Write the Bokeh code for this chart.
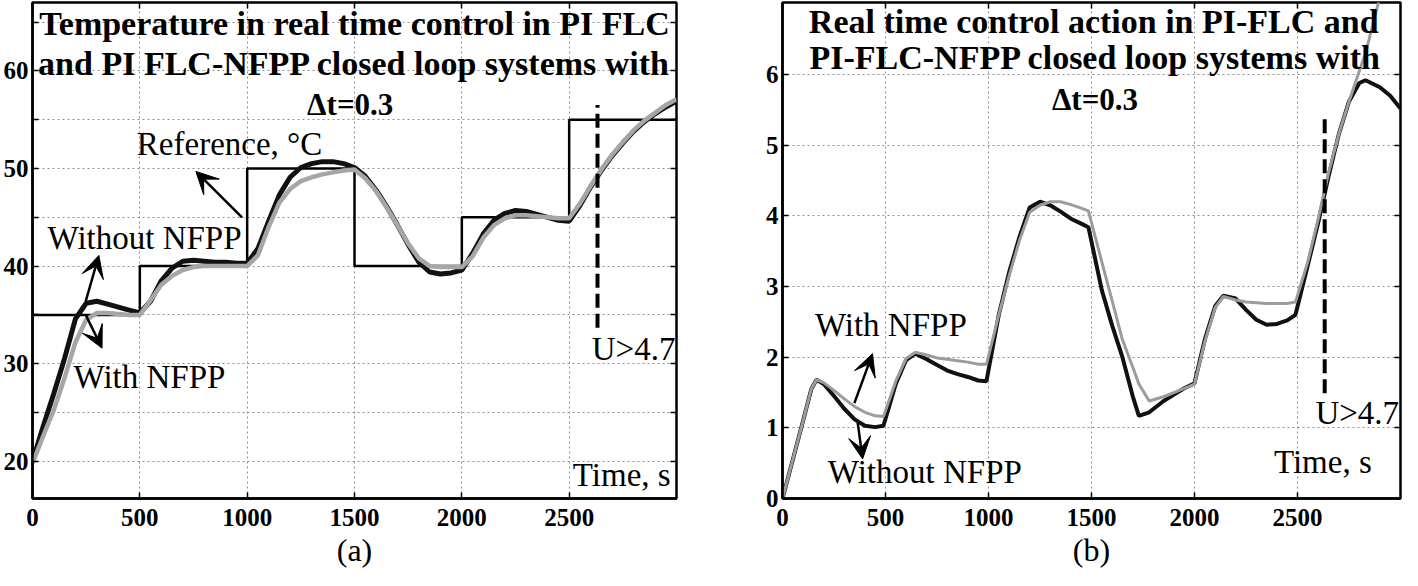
from bokeh.plotting import figure
from bokeh.layouts import row
from bokeh.models import Range1d, FixedTicker, LinearAxis, Arrow, VeeHead, Label
from bokeh.embed import file_html
from bokeh.resources import INLINE

FONT = "Liberation Serif"

# ---------------- data: panel (a) temperature ----------------
ref_start = [0, 500, 1000, 1500, 2000, 2500, 3000]
ref_level = [35, 40, 50, 40, 45, 55, 55]

temp_t = [0, 50, 100, 150, 200, 250, 300, 350, 400, 450, 500, 550, 600, 650, 700, 750, 800, 850, 900, 950,
          1000, 1050, 1100, 1150, 1200, 1250, 1300, 1350, 1400, 1450, 1500, 1550, 1600, 1650, 1700, 1750,
          1800, 1850, 1900, 1950, 2000, 2050, 2100, 2150, 2200, 2250, 2300, 2350, 2400, 2450, 2500, 2550,
          2600, 2650, 2700, 2750, 2800, 2850, 2900, 2950, 3000]
temp_without = [20.0, 23.6, 27.0, 30.6, 34.6, 36.2, 36.4, 36.1, 35.8, 35.5, 35.2, 36.4, 38.5, 39.8, 40.5,
                40.6, 40.5, 40.4, 40.4, 40.3, 40.3, 41.8, 44.6, 47.3, 49.1, 50.1, 50.5, 50.7, 50.7, 50.5,
                50.1, 49.2, 47.8, 46.1, 44.2, 42.2, 40.4, 39.4, 39.2, 39.3, 39.6, 41.3, 43.3, 44.7, 45.4,
                45.7, 45.6, 45.3, 45.0, 44.7, 44.6, 46.2, 48.1, 49.8, 51.3, 52.6, 53.8, 54.8, 55.6, 56.3, 56.9]
temp_with = [19.8, 22.6, 25.3, 28.6, 32.2, 34.5, 35.2, 35.2, 35.1, 35.0, 35.0, 36.5, 38.1, 39.0, 39.6,
             39.9, 40.0, 40.0, 40.0, 40.0, 40.0, 41.1, 44.0, 46.5, 47.9, 48.7, 49.1, 49.4, 49.6, 49.8,
             49.9, 49.0, 47.7, 46.0, 44.2, 42.3, 40.8, 40.0, 39.9, 39.9, 39.9, 41.0, 42.9, 44.2, 44.9,
             45.2, 45.2, 45.1, 45.0, 44.9, 44.9, 46.4, 48.2, 49.9, 51.4, 52.7, 53.9, 54.9, 55.7, 56.5, 57.1]

# ---------------- data: panel (b) control action ----------------
ctrl_t = [0, 50, 100, 140, 165, 200, 250, 300, 350, 400, 450, 490, 550, 600, 645, 700, 750, 800, 850, 900,
          950, 990, 1050, 1100, 1150, 1200, 1250, 1300, 1350, 1400, 1450, 1485, 1550, 1600, 1650, 1700,
          1730, 1780, 1850, 1900, 1950, 2000, 2050, 2100, 2140, 2200, 2250, 2300, 2350, 2400, 2450, 2490,
          2550, 2600, 2650, 2700, 2750, 2800, 2830, 2900, 2950, 3000]
ctrl_without = [0.0, 0.55, 1.1, 1.55, 1.68, 1.62, 1.45, 1.27, 1.12, 1.03, 1.01, 1.03, 1.62, 1.96, 2.05,
                1.97, 1.89, 1.81, 1.76, 1.72, 1.67, 1.66, 2.6, 3.2, 3.7, 4.12, 4.2, 4.15, 4.06, 3.96,
                3.89, 3.84, 2.95, 2.45, 2.0, 1.45, 1.17, 1.22, 1.38, 1.47, 1.56, 1.63, 2.25, 2.72, 2.87,
                2.83, 2.67, 2.53, 2.46, 2.47, 2.52, 2.6, 3.3, 3.9, 4.55, 5.15, 5.62, 5.88, 5.92, 5.82,
                5.7, 5.52]
ctrl_with = [0.0, 0.55, 1.1, 1.55, 1.68, 1.64, 1.53, 1.41, 1.3, 1.22, 1.17, 1.16, 1.66, 1.98, 2.07,
             2.03, 1.99, 1.97, 1.95, 1.93, 1.9, 1.9, 2.6, 3.15, 3.65, 4.05, 4.15, 4.2, 4.2, 4.16,
             4.11, 4.07, 3.35, 2.8, 2.25, 1.86, 1.62, 1.38, 1.44, 1.5, 1.56, 1.62, 2.22, 2.7, 2.86,
             2.81, 2.78, 2.77, 2.76, 2.76, 2.76, 2.78, 3.35, 3.95, 4.6, 5.15, 5.62, 6.05, 6.3, 7.1,
             7.7, 8.2]

x_ticks = [0, 500, 1000, 1500, 2000, 2500]
x_edge_ticks = [500, 1000, 1500, 2000, 2500]
temp_major = [20, 30, 40, 50, 60]
temp_minor = [25, 35, 45, 55, 65]
ctrl_major = [0, 1, 2, 3, 4, 5, 6]

limit_time = 2632
limit_label = "U>4.7"


def style(p, ymajor, yminor, caption):
    p.outline_line_color = "black"
    p.outline_line_width = 2.5
    p.background_fill_color = "white"
    p.border_fill_color = "white"
    xb = p.below[0]
    yl = p.left[0]
    xb.ticker = FixedTicker(ticks=x_ticks)
    yl.ticker = FixedTicker(ticks=ymajor, minor_ticks=yminor)
    for ax in (xb, yl):
        ax.major_tick_in = 6
        ax.major_tick_out = 0
        ax.minor_tick_in = 6
        ax.minor_tick_out = 0
        ax.major_tick_line_width = 1.5
        ax.minor_tick_line_width = 1.5
        ax.axis_line_width = 2.5
        ax.major_label_text_font = FONT
        ax.major_label_text_font_size = "25px"
        ax.major_label_text_font_style = "bold"
        ax.major_label_text_color = "black"
    p.xgrid.ticker = FixedTicker(ticks=x_ticks)
    p.ygrid.ticker = FixedTicker(ticks=ymajor, minor_ticks=yminor)
    for g in (p.xgrid[0], p.ygrid[0]):
        g.grid_line_color = "#8f8f8f"
        g.grid_line_dash = "2 3"
        g.grid_line_width = 1
    p.ygrid.minor_grid_line_color = "#8f8f8f"
    p.ygrid.minor_grid_line_dash = "2 3"
    p.ygrid.minor_grid_line_width = 1
    # inward tick marks on the right and top edges (no labels)
    all_y = sorted(ymajor + yminor)
    r = LinearAxis(ticker=FixedTicker(ticks=[], minor_ticks=all_y), major_label_standoff=0,
                   axis_line_color=None, major_tick_line_color=None,
                   minor_tick_in=6, minor_tick_out=0, minor_tick_line_width=1.5)
    t = LinearAxis(ticker=FixedTicker(ticks=[], minor_ticks=x_edge_ticks), major_label_standoff=0,
                   axis_line_color=None, major_tick_line_color=None,
                   minor_tick_in=6, minor_tick_out=0, minor_tick_line_width=1.5)
    p.add_layout(r, "right")
    p.add_layout(t, "above")
    xb.axis_label = caption
    xb.axis_label_text_font = FONT
    xb.axis_label_text_font_size = "32px"
    xb.axis_label_text_font_style = "normal"
    xb.axis_label_text_color = "black"
    xb.axis_label_standoff = 3
    xb.major_label_standoff = 10


def txt(p, x, y, s, size="33px", bold=False, align="center"):
    p.add_layout(Label(x=x, y=y, text=s, text_font=FONT, text_font_size=size,
                       text_font_style="bold" if bold else "normal", text_align=align,
                       text_baseline="middle", text_color="black"))


def arrow(p, x0, y0, x1, y1):
    p.add_layout(Arrow(end=VeeHead(size=22, fill_color="black", line_color="black", line_width=1),
                       x_start=x0, y_start=y0, x_end=x1, y_end=y1,
                       line_color="black", line_width=2.5))


# ---------------- panel (a) ----------------
p1 = figure(width=692, height=570, x_range=Range1d(0, 3000), y_range=Range1d(16.2, 67.0),
            output_backend="svg", toolbar_location=None,
            min_border_left=27, min_border_right=16, min_border_top=2)
style(p1, temp_major, temp_minor, "(a)")
p1.left[0].major_label_standoff = 4

p1.step(ref_start, ref_level, mode="after", line_color="black", line_width=2.5)
p1.line(temp_t, temp_without, line_color="#111111", line_width=5)
p1.line(temp_t, temp_with, line_color="#a6a6a6", line_width=4.5)
p1.segment(x0=[limit_time], y0=[33.7], x1=[limit_time], y1=[56.5], line_color="black",
           line_width=4, line_dash="14 6")

txt(p1, 1500, 64.8, "Temperature in real time control in PI FLC", size="34px", bold=True)
txt(p1, 1500, 60.8, "and PI FLC-NFPP closed loop systems with", size="34px", bold=True)
txt(p1, 1480, 56.6, "\u0394t=0.3", size="31px", bold=True)
txt(p1, 918, 52.5, "Reference, \u00b0C")
txt(p1, 522, 42.9, "Without NFPP")
txt(p1, 545, 28.6, "With NFPP")
txt(p1, 2800, 31.5, limit_label)
txt(p1, 2745, 18.6, "Time, s")
arrow(p1, 976, 45.0, 761, 49.7)
arrow(p1, 248, 36.4, 309, 41.1)
arrow(p1, 248, 35.0, 324, 31.6)

# ---------------- panel (b) ----------------
p2 = figure(width=712, height=570, x_range=Range1d(0, 3000), y_range=Range1d(0, 7.02),
            output_backend="svg", toolbar_location=None,
            min_border_left=90, min_border_right=4, min_border_top=2)
style(p2, ctrl_major, [], "(b)")
p2.left[0].major_label_standoff = 4

p2.line(ctrl_t, ctrl_without, line_color="#111111", line_width=4)
p2.line(ctrl_t, ctrl_with, line_color="#9c9c9c", line_width=3)
p2.segment(x0=[limit_time], y0=[1.49], x1=[limit_time], y1=[5.42], line_color="black",
           line_width=4, line_dash="14 6")

txt(p2, 1511, 6.75, "Real time control action in PI-FLC and", size="34px", bold=True)
txt(p2, 1520, 6.24, "PI-FLC-NFPP closed loop systems with", size="34px", bold=True)
txt(p2, 1517, 5.65, "\u0394t=0.3", size="31px", bold=True)
txt(p2, 526, 2.45, "With NFPP")
txt(p2, 691, 0.37, "Without NFPP")
txt(p2, 2790, 1.21, limit_label)
txt(p2, 2623, 0.51, "Time, s")
arrow(p2, 349, 1.35, 437, 2.05)
arrow(p2, 365, 1.07, 389, 0.56)

layout = row(p1, p2)
open("out.html", "w").write(file_html(layout, INLINE))
